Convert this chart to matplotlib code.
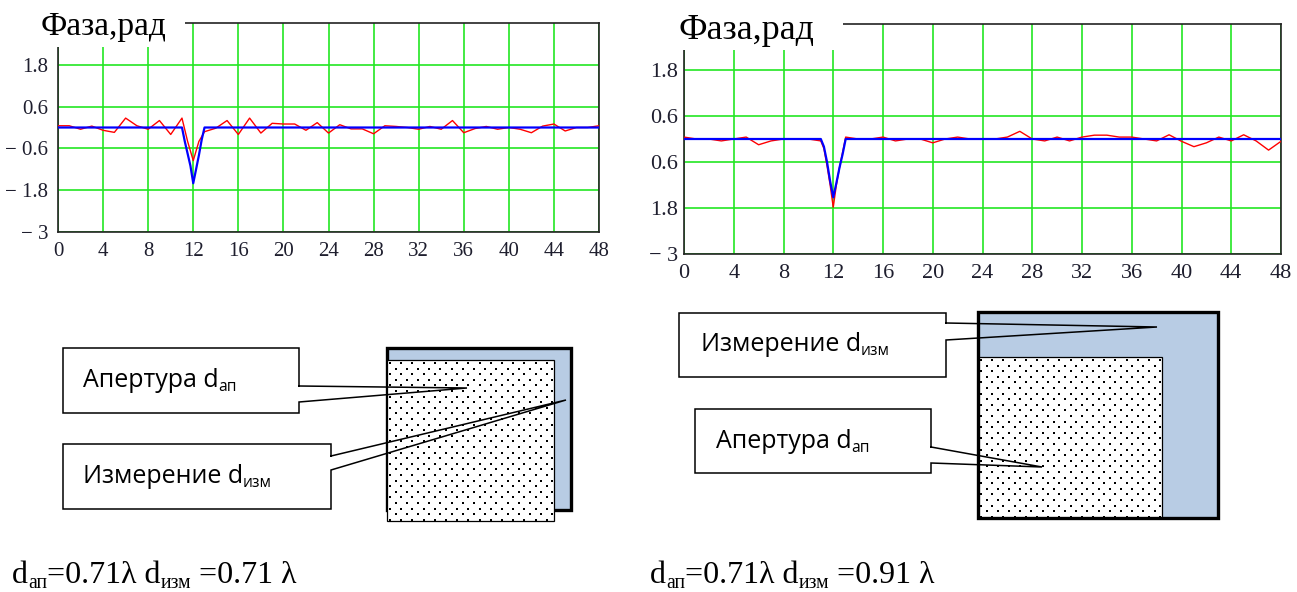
import matplotlib
matplotlib.use("Agg")
import matplotlib.pyplot as plt
import numpy as np
from matplotlib.patches import Rectangle

# --- data ---
# left plot (d_ap = d_izm = 0.71 lambda)
left_red_x = [0, 1, 2, 3, 4, 5, 6, 7, 8, 9, 10, 11, 11.5, 12, 12.5, 13, 14, 15, 16, 17,
              18, 19, 20, 21, 22, 23, 24, 25, 26, 27, 28, 29, 30, 31, 32, 33, 34, 35,
              36, 37, 38, 39, 40, 41, 42, 43, 44, 45, 46, 47, 48]
left_red_y = [0.05, 0.05, -0.05, 0.04, -0.08, -0.14, 0.27, 0.05, -0.05, 0.2, -0.2, 0.27,
              -0.4, -0.95, -0.4, -0.12, -0.02, 0.2, -0.2, 0.27, -0.16, 0.12, 0.1, 0.1,
              -0.08, 0.14, -0.16, 0.08, -0.04, -0.04, -0.18, 0.05, 0.03, 0.0, -0.05,
              0.03, -0.05, 0.2, -0.15, -0.03, 0.03, -0.05, 0.0, -0.05, -0.15, 0.04,
              0.1, -0.1, 0.0, 0.0, 0.05]
left_blue_x = [0, 11, 11.25, 11.5, 11.75, 12, 12.25, 12.5, 12.75, 13, 48]
left_blue_y = [0, 0, -0.4, -0.75, -1.1, -1.6, -1.2, -0.8, -0.35, 0, 0]

# right plot (d_ap = 0.71 lambda, d_izm = 0.91 lambda)
right_red_x = [0, 1, 2, 3, 4, 5, 6, 7, 8, 9, 10, 11, 11.25, 11.5, 11.75, 12, 12.25, 12.5,
               12.75, 13, 14, 15, 16, 17, 18, 19, 20, 21, 22, 23, 24, 25, 26, 27, 28, 29,
               30, 31, 32, 33, 34, 35, 36, 37, 38, 39, 40, 41, 42, 43, 44, 45, 46, 47, 48]
right_red_y = [0.05, 0.0, 0.0, -0.05, 0.0, 0.05, -0.15, -0.05, 0.0, 0.0, 0.0, -0.05,
               -0.25, -0.7, -1.2, -1.78, -1.2, -0.75, -0.35, 0.05, 0.0, 0.0, 0.05, -0.05,
               0.0, 0.0, -0.1, 0.0, 0.05, 0.0, 0.0, 0.0, 0.05, 0.2, 0.0, -0.05, 0.05,
               -0.05, 0.05, 0.1, 0.1, 0.05, 0.05, 0.0, -0.05, 0.11, -0.06, -0.2, -0.1,
               0.05, -0.05, 0.11, -0.05, -0.29, -0.06]
right_blue_x = [0, 11, 11.25, 11.5, 11.75, 12, 12.25, 12.5, 12.75, 13, 48]
right_blue_y = [0, 0, -0.2, -0.6, -1.1, -1.52, -1.15, -0.75, -0.4, 0, 0]

x_ticks = list(range(0, 49, 4))
y_ticks = [-3, -1.8, -0.6, 0.6, 1.8]
left_ylabels = ["\u2212 3", "\u2212 1.8", "\u2212 0.6", "0.6", "1.8"]
right_ylabels = ["\u2212 3", "1.8", "0.6", "0.6", "1.8"]

W, H = 1297, 592
fig = plt.figure(figsize=(W / 100, H / 100), dpi=100)
serif = ["Liberation Serif", "DejaVu Serif"]
sans = ["Open Sans", "DejaVu Sans"]


def phase_plot(rect, rx, ry, bx, by, ylabels, fs, xpad, ypad):
    ax = fig.add_axes([rect[0] / W, 1 - rect[3] / H, (rect[2] - rect[0]) / W, (rect[3] - rect[1]) / H])
    ax.plot(rx, ry, color="#ff0000", lw=1.0, zorder=3)
    ax.plot(bx, by, color="#0000ff", lw=1.6, zorder=4)
    ax.set_xlim(0, 48)
    ax.set_ylim(-3, 3)
    ax.set_xticks(x_ticks)
    ax.set_xticklabels([str(v) for v in x_ticks], family=serif, fontsize=fs, color="#1e1e2e")
    ax.set_yticks(y_ticks)
    ax.set_yticklabels(ylabels, family=serif, fontsize=fs, color="#1e1e2e")
    ax.tick_params(length=0)
    ax.tick_params(axis="x", pad=xpad)
    ax.tick_params(axis="y", pad=ypad)
    ax.grid(True, color="#22e622", lw=1.2, zorder=1)
    for s in ax.spines.values():
        s.set_linewidth(1.2)
        s.set_color("#222222")
    return ax


phase_plot((58, 23, 599, 232), left_red_x, left_red_y, left_blue_x, left_blue_y,
           left_ylabels, 15, 7, 7)
phase_plot((684, 24, 1281, 254), right_red_x, right_red_y, right_blue_x, right_blue_y,
           right_ylabels, 16, 7, 4)

# overlay in pixel coordinates for titles, sketches and captions
ov = fig.add_axes([0, 0, 1, 1], zorder=10)
ov.set_xlim(0, W)
ov.set_ylim(H, 0)
ov.axis("off")
ov.patch.set_alpha(0)

ov.add_patch(Rectangle((36, 0), 149, 46.5, facecolor="white", edgecolor="none"))
ov.add_patch(Rectangle((672, 0), 171, 50, facecolor="white", edgecolor="none"))
ov.text(41, 35, "Фаза,рад", family=serif, fontsize=24, va="baseline")
ov.text(679, 39, "Фаза,рад", family=serif, fontsize=26, va="baseline")


def chain(x, y, parts, fs, family):
    # parts: list of (text, is_subscript)
    prev = None
    for s, sub in parts:
        size = fs * 0.62 if sub else fs
        yy = y + fs * 0.22 if sub else y
        if prev is None:
            prev = ov.text(x, yy, s, family=family, fontsize=size, va="baseline", zorder=8)
        else:
            prev = ov.annotate(s, xy=(1, yy), xycoords=(prev, ov.transData),
                               family=family, fontsize=size, va="baseline", ha="left", zorder=8)


def callout(box, gap, tip):
    x0, y0, x1, y1 = box
    ov.add_patch(Rectangle((x0, y0), x1 - x0, y1 - y0, facecolor="white", edgecolor="none", zorder=5))
    xs = [x1, x1, x0, x0, x1, x1, tip[0], x1]
    ys = [gap[0], y0, y0, y1, y1, gap[1], tip[1], gap[0]]
    ov.plot(xs, ys, color="black", lw=1.1, zorder=6, solid_joinstyle="miter")


def dotted_square(x0, y0, w, h, z):
    ov.add_patch(Rectangle((x0, y0), w, h, facecolor="white", edgecolor="black", lw=0.9, zorder=z))
    step = 5.6
    px, py = [], []
    for i, yy in enumerate(np.arange(y0 + 3, y0 + h - 1, step)):
        off = 3 if i % 2 == 0 else 3 + step
        xx = np.arange(x0 + off, x0 + w - 1, 2 * step)
        px.extend(xx)
        py.extend([yy] * len(xx))
    ov.scatter(px, py, s=1.3, marker="s", color="black", linewidths=0, zorder=z + 0.1)


# left sketch: measurement square behind, aperture square in front
ov.add_patch(Rectangle((387, 348), 184, 162, facecolor="#b8cce4", edgecolor="black", lw=2.4, zorder=2))
dotted_square(387, 360, 167, 161, 3)
callout((63, 348, 299, 413), (386, 402), (467, 388))
callout((63, 444, 331, 509), (456, 470), (566, 400))
chain(83, 387, [("Апертура d", False), ("ап", True)], 18, sans)
chain(83, 483, [("Измерение d", False), ("изм", True)], 18, sans)

# right sketch
ov.add_patch(Rectangle((978, 312), 240, 206, facecolor="#b8cce4", edgecolor="none", zorder=2))
dotted_square(978, 357, 184, 161, 3)
ov.add_patch(Rectangle((978, 312), 240, 206, facecolor="none", edgecolor="black", lw=2.4, zorder=4))
callout((679, 313, 946, 377), (323, 340), (1157, 327))
callout((695, 409, 931, 473), (447, 463), (1042, 467))
chain(701, 351, [("Измерение d", False), ("изм", True)], 18, sans)
chain(716, 448, [("Апертура d", False), ("ап", True)], 18, sans)

# captions
chain(12, 583, [("d", False), ("ап", True), ("=0.71λ d", False), ("изм", True), (" =0.71 λ", False)], 23, serif)
chain(650, 583, [("d", False), ("ап", True), ("=0.71λ d", False), ("изм", True), (" =0.91 λ", False)], 23, serif)

fig.savefig("out.png", dpi=100)
